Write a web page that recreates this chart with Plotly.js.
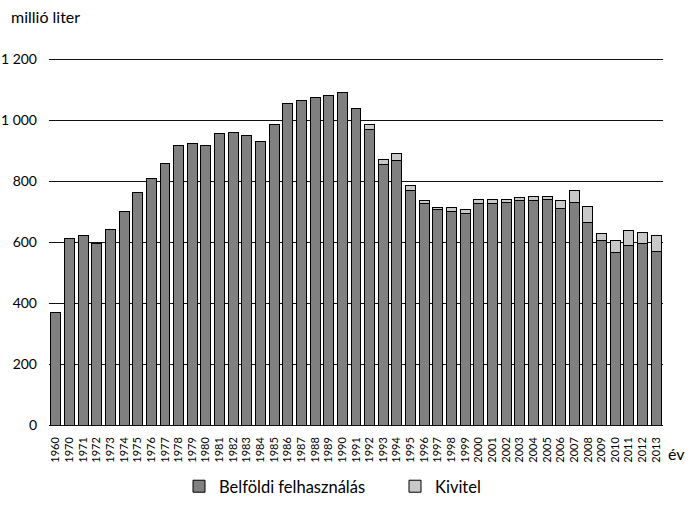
<!DOCTYPE html>
<html>
<head>
<meta charset="utf-8">
<script src="https://cdn.plot.ly/plotly-3.0.1.min.js"></script>
<style>
  html, body { margin: 0; padding: 0; background: #fff; }
  #chart { width: 690px; height: 526px; }
</style>
</head>
<body>
<div id="chart"></div>
<script>
// Years on the category axis (1960, then 1970–2013)
const years = [
  '1960', '1970', '1971', '1972', '1973', '1974', '1975', '1976', '1977', '1978',
  '1979', '1980', '1981', '1982', '1983', '1984', '1985', '1986', '1987', '1988',
  '1989', '1990', '1991', '1992', '1993', '1994', '1995', '1996', '1997', '1998',
  '1999', '2000', '2001', '2002', '2003', '2004', '2005', '2006', '2007', '2008',
  '2009', '2010', '2011', '2012', '2013',
];

// Belföldi felhasználás (millió liter)
const domestic = [
  368, 612, 623, 596, 642, 700, 763, 808, 857, 918,
  922, 918, 955, 958, 948, 929, 984, 1055, 1065, 1075,
  1082, 1089, 1039, 970, 853, 868, 768, 725, 708, 700,
  695, 727, 727, 731, 736, 736, 740, 711, 731, 664,
  605, 566, 588, 594, 568,
];

// Kivitel (millió liter)
const exports_ = [
  0, 0, 0, 0, 0, 0, 0, 0, 0, 0,
  0, 0, 0, 0, 0, 0, 0, 0, 0, 0,
  0, 0, 0, 16, 18, 22, 16, 12, 4, 12,
  13, 13, 13, 9, 9, 12, 8, 26, 39, 54,
  22, 40, 50, 37, 53,
];

const yTickVals = [0, 200, 400, 600, 800, 1000, 1200];
const yTickText = ['0', '200', '400', '600', '800', '1 000', '1 200'];

const FONT = 'Lato, "Open Sans", sans-serif';

const traces = [
  {
    type: 'bar',
    name: 'Belföldi felhasználás',
    x: years,
    y: domestic,
    marker: { color: '#808080', line: { color: '#000', width: 1 } },
  },
  {
    type: 'bar',
    name: 'Kivitel',
    x: years,
    y: exports_,
    marker: { color: '#c8c8c8', line: { color: '#000', width: 1 } },
  },
];

const layout = {
  width: 690,
  height: 526,
  barmode: 'stack',
  bargap: 0.27,
  font: { family: FONT, color: '#000', size: 14 },
  paper_bgcolor: '#fff',
  plot_bgcolor: '#fff',
  // range runs a little past 1 200 so the top gridline is drawn
  margin: { l: 49, r: 27, t: 56, b: 101 },
  xaxis: {
    type: 'category',
    tickmode: 'array',
    tickvals: years,
    ticktext: years,
    tickangle: -90,
    tickfont: { size: 11 },
    ticklabelstandoff: 9,
    showgrid: false,
    showline: false,
    ticks: '',
    automargin: false,
  },
  yaxis: {
    range: [0, 1210],
    tickmode: 'array',
    tickvals: yTickVals,
    ticktext: yTickText,
    tickfont: { size: 14 },
    ticklabelstandoff: 11,
    showgrid: true,
    gridcolor: '#111',
    gridwidth: 1,
    zeroline: true,
    zerolinecolor: '#111',
    zerolinewidth: 1,
    showline: false,
    ticks: '',
    automargin: false,
  },
  showlegend: true,
  legend: {
    orientation: 'h',
    xref: 'container',
    yref: 'container',
    x: 179 / 690,
    y: 1 - 469 / 526,
    xanchor: 'left',
    yanchor: 'top',
    itemwidth: 30,
    entrywidth: 171,
    entrywidthmode: 'pixels',
    font: { size: 16.5 },
    traceorder: 'normal',
  },
  annotations: [
    {
      text: 'millió liter',
      xref: 'paper', yref: 'paper',
      x: -40 / 614, y: 1 + 40 / 369,
      xanchor: 'left', yanchor: 'middle',
      showarrow: false,
      font: { size: 16 },
    },
    {
      text: 'év',
      xref: 'paper', yref: 'paper',
      x: 1 + 3 / 614, y: -28 / 369,
      xanchor: 'left', yanchor: 'middle',
      showarrow: false,
      font: { size: 16 },
    },
  ],
};

Plotly.newPlot('chart', traces, layout, { displayModeBar: false, staticPlot: true });
</script>
</body>
</html>
